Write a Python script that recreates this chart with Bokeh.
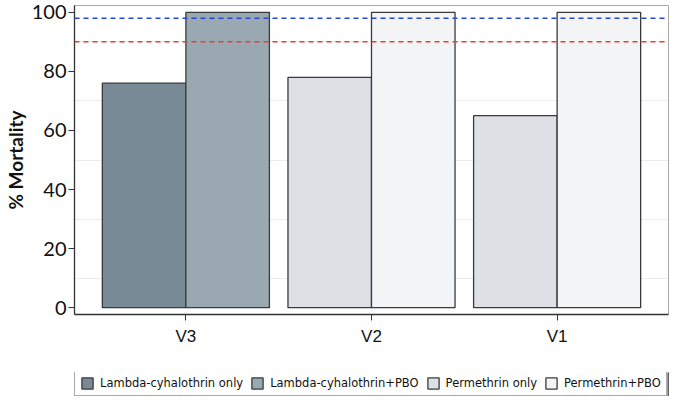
from bokeh.plotting import figure
from bokeh.layouts import column
from bokeh.models import (FactorRange, Range1d, ColumnDataSource, Span, FixedTicker,
                          Legend, LegendItem)
from bokeh.transform import dodge
from bokeh.embed import file_html
from bokeh.resources import INLINE

villages = ["V3", "V2", "V1"]
series_names = ["Lambda-cyhalothrin only", "Lambda-cyhalothrin+PBO",
                "Permethrin only", "Permethrin+PBO"]
lambda_only = [76, None, None]
lambda_pbo = [100, None, None]
perm_only = [None, 78, 65]
perm_pbo = [None, 100, 100]
y_ticks = [0, 20, 40, 60, 80, 100]
who_threshold = 98
resistance_threshold = 90

colors = ["#788a96", "#9aa9b1", "#dde1e5", "#f3f4f6"]
offsets = [-0.225, 0.225, -0.225, 0.225]
bar_line = "#3a3a3a"

p = figure(x_range=FactorRange(factors=villages, range_padding=0.1,
                               range_padding_units="absolute"),
           y_range=Range1d(-2.3, 102.3),
           width=669, height=372, output_backend="svg", toolbar_location=None,
           min_border_top=5, min_border_right=1, min_border_left=10,
           min_border_bottom=58)

for name, vals, col, off in zip(series_names, [lambda_only, lambda_pbo, perm_only, perm_pbo],
                                colors, offsets):
    xs = [v for v, y in zip(villages, vals) if y is not None]
    ys = [y for y in vals if y is not None]
    src = ColumnDataSource(dict(village=xs, value=ys))
    p.vbar(x=dodge("village", off, range=p.x_range), top="value", bottom=0,
           width=0.45, source=src, fill_color=col, line_color=bar_line,
           line_width=1.3)

p.add_layout(Span(location=who_threshold, dimension="width", line_color="#2746d8",
                  line_dash="5 4", line_width=1.5))
p.add_layout(Span(location=resistance_threshold, dimension="width", line_color="#e8402f",
                  line_dash="5 4", line_width=1.5))

p.xgrid.grid_line_color = None
p.ygrid.ticker = FixedTicker(ticks=[10, 30, 50, 70, 90])
p.ygrid.grid_line_color = "#ececec"
p.outline_line_color = "#a8a8a8"
p.outline_line_width = 1

p.yaxis.ticker = FixedTicker(ticks=y_ticks)
p.yaxis.minor_tick_line_color = None
p.yaxis.major_tick_out = 6
p.yaxis.major_tick_in = 0
p.yaxis.major_label_standoff = 2
p.yaxis.major_label_text_font = "Lato"
p.yaxis.major_label_text_font_size = "20px"
p.yaxis.major_label_text_color = "#111111"
p.yaxis.axis_line_color = "#333333"
p.yaxis.axis_line_width = 1.3
p.yaxis.major_tick_line_color = "#333333"
p.yaxis.axis_label = "% Mortality"
p.yaxis.axis_label_text_font = "Lato"
p.yaxis.axis_label_text_font_style = "bold"
p.yaxis.axis_label_text_font_size = "19px"
p.yaxis.axis_label_text_color = "#111111"
p.yaxis.axis_label_standoff = 2

p.xaxis.major_tick_out = 6
p.xaxis.major_tick_in = 0
p.xaxis.major_label_standoff = 6
p.xaxis.major_label_text_font = "Liberation Sans"
p.xaxis.major_label_text_font_size = "17px"
p.xaxis.major_label_text_color = "#111111"
p.xaxis.axis_line_color = "#333333"
p.xaxis.axis_line_width = 1.3
p.xaxis.major_tick_line_color = "#333333"

# legend strip
q = figure(width=669, height=24, output_backend="svg", toolbar_location=None,
           x_range=Range1d(0, 1), y_range=Range1d(0, 1),
           min_border=0, min_border_left=0, min_border_right=1,
           min_border_top=0, min_border_bottom=0)
q.axis.visible = False
q.grid.grid_line_color = None
q.outline_line_color = None
items = []
for name, col in zip(series_names, colors):
    r = q.vbar(x=[5], top=[1], width=0.1, fill_color=col, line_color=bar_line,
               line_width=1.3)
    items.append(LegendItem(label=name, renderers=[r]))

legend = Legend(items=items, orientation="horizontal", location=(0, 0),
                label_text_font="DejaVu Sans", label_text_font_size="11.5px",
                label_text_color="#111111", glyph_width=14, glyph_height=14,
                label_standoff=6, spacing=7, padding=5, margin=0,
                border_line_color="#555555", border_line_width=1,
                background_fill_color="white")
q.add_layout(legend, "center")

open("out.html", "w").write(file_html(column(p, q, spacing=0), INLINE))
